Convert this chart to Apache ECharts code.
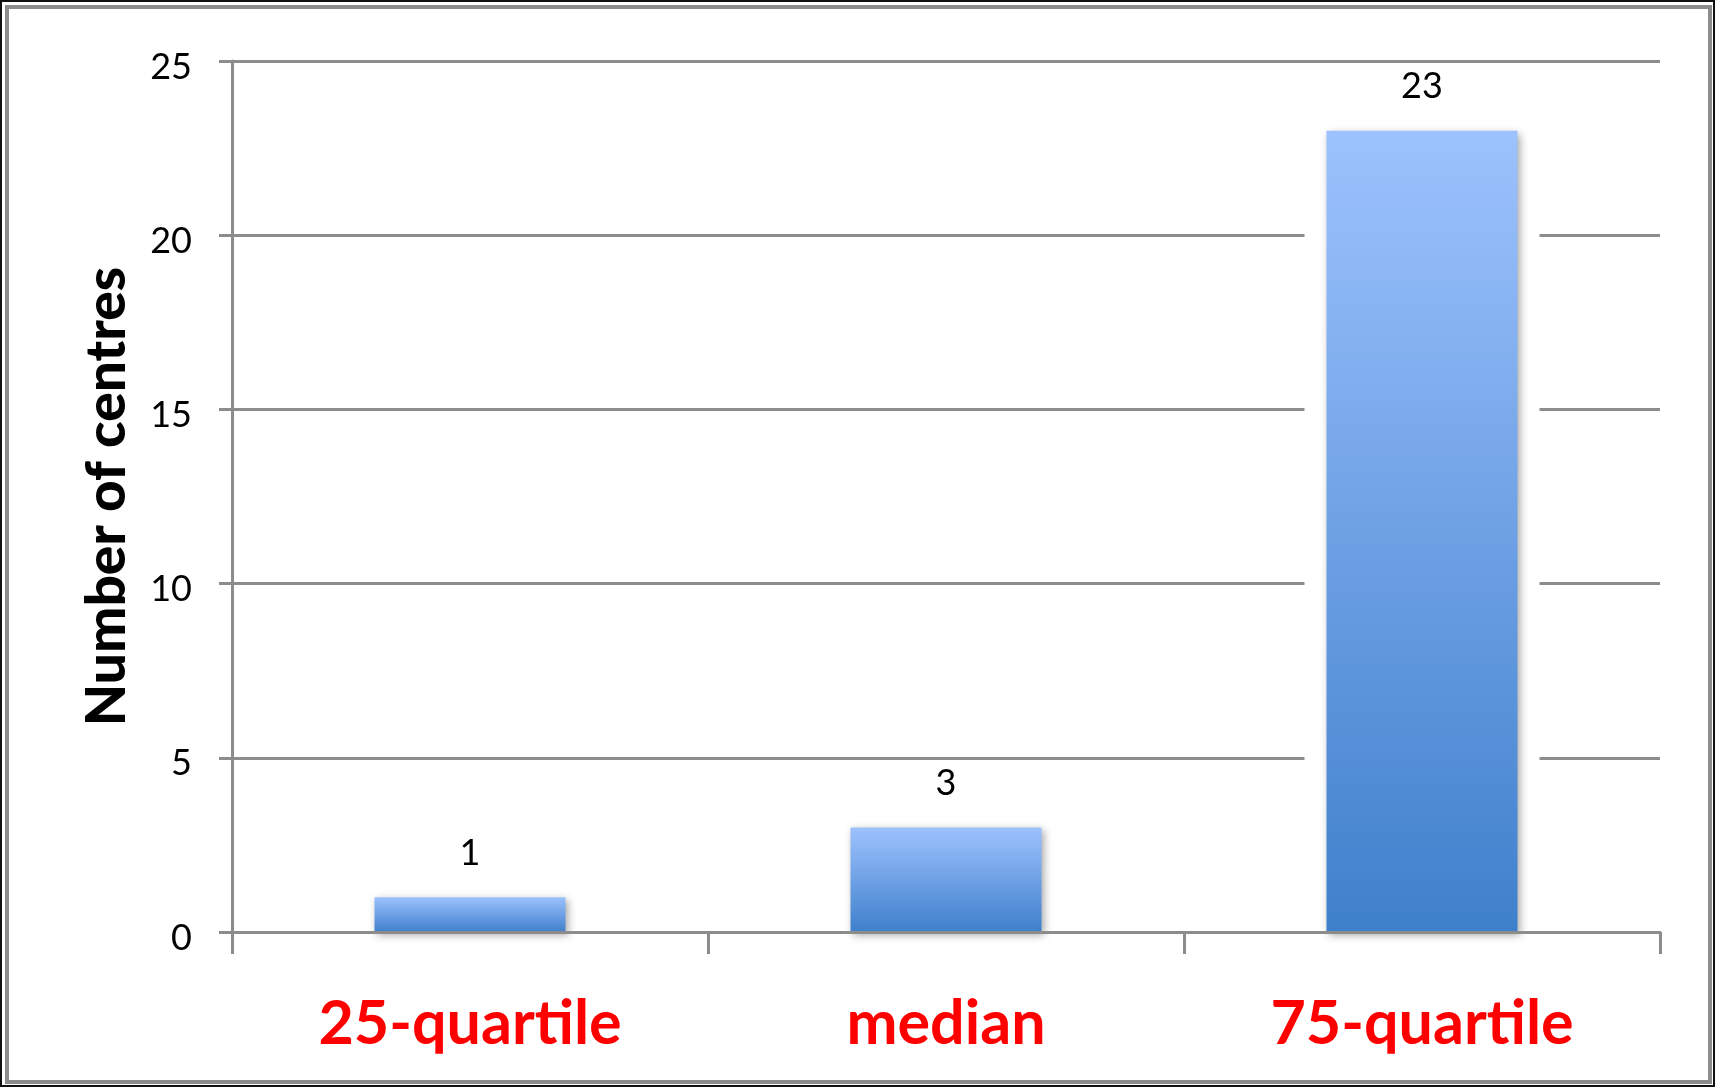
<!DOCTYPE html>
<html>
<head>
<meta charset="utf-8">
<script src="https://cdn.jsdelivr.net/npm/echarts@6/dist/echarts.min.js"></script>
<style>
  html, body { margin: 0; padding: 0; background: #fff; }
  #chart { position: absolute; left: 0; top: 0; width: 1715px; height: 1087px; }
  .frame {
    position: absolute; left: 0; top: 0; width: 1715px; height: 1087px;
    box-sizing: border-box; border: 2px solid #111; pointer-events: none;
  }
  .frame-inner {
    position: absolute; left: 3px; top: 3px; right: 1px; bottom: 1px;
    border: 4px solid #8c8c8c; pointer-events: none;
  }
</style>
</head>
<body>
<div id="chart"></div>
<div class="frame"><div class="frame-inner"></div></div>
<script>
// data
var categories = ["25-quartile", "median", "75-quartile"];
var centres = [1, 3, 23];
var yTicks = { min: 0, max: 25, interval: 5 };

var gray = "#8c8c8c";
var chart = echarts.init(document.getElementById("chart"));

chart.setOption({
  animation: false,
  grid: { left: 232, right: 55, top: 61, bottom: 155 },
  xAxis: [
    {
      type: "category",
      data: categories,
      z: 5,
      axisLine: { show: true, lineStyle: { color: gray, width: 3 } },
      axisTick: { show: true, alignWithLabel: false, interval: 0, length: 22, lineStyle: { color: gray, width: 3 } },
      axisLabel: {
        margin: 62,
        color: "#ff0000",
        fontFamily: "Lato",
        fontWeight: "bold",
        fontSize: 61
      }
    },
    {
      // hidden twin axis, only used to place the white halo behind the bars
      type: "category",
      data: categories,
      show: false
    }
  ],
  yAxis: {
    type: "value",
    min: yTicks.min,
    max: yTicks.max,
    interval: yTicks.interval,
    name: "Number of centres",
    nameLocation: "middle",
    nameGap: 97,
    nameTextStyle: {
      color: "#000",
      fontFamily: "Lato",
      fontWeight: 900,
      fontSize: 55
    },
    axisLine: { show: true, lineStyle: { color: gray, width: 3 } },
    axisTick: { show: true, length: 13, lineStyle: { color: gray, width: 3 } },
    splitLine: { lineStyle: { color: gray, width: 3 } },
    axisLabel: {
      margin: 40,
      color: "#000",
      fontFamily: "Lato",
      fontSize: 36,
      verticalAlign: "top",
      lineHeight: 12
    }
  },
  series: [
    {
      // white halo that breaks the gridlines around each bar
      type: "bar",
      xAxisIndex: 1,
      data: centres,
      barWidth: 235,
      z: 1,
      silent: true,
      itemStyle: { color: "#fff" }
    },
    {
      type: "bar",
      xAxisIndex: 0,
      data: centres,
      barWidth: 191,
      z: 2,
      itemStyle: {
        color: {
          type: "linear", x: 0, y: 0, x2: 0, y2: 1,
          colorStops: [
            { offset: 0, color: "#9dc2fd" },
            { offset: 1, color: "#3f80cc" }
          ]
        },
        shadowColor: "rgba(0,0,0,0.35)",
        shadowBlur: 8,
        shadowOffsetX: 2,
        shadowOffsetY: 3
      },
      label: {
        show: true,
        position: "top",
        distance: 26,
        color: "#000",
        fontFamily: "Lato",
        fontSize: 36
      }
    }
  ]
});
</script>
</body>
</html>
